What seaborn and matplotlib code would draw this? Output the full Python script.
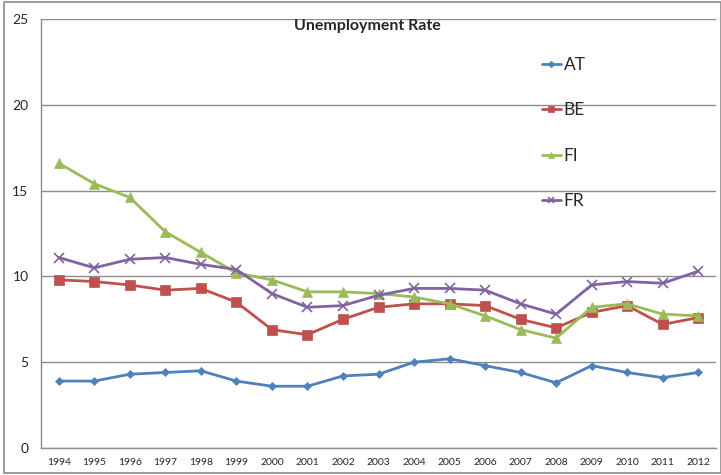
import matplotlib
matplotlib.use("Agg")
import matplotlib.pyplot as plt
import seaborn as sns
import pandas as pd
from matplotlib.patches import Rectangle

years = [str(y) for y in range(1994, 2013)]
AT = [3.9, 3.9, 4.3, 4.4, 4.5, 3.9, 3.6, 3.6, 4.2, 4.3, 5.0, 5.2, 4.8, 4.4, 3.8, 4.8, 4.4, 4.1, 4.4]
BE = [9.8, 9.7, 9.5, 9.2, 9.3, 8.5, 6.9, 6.6, 7.5, 8.2, 8.4, 8.4, 8.3, 7.5, 7.0, 7.9, 8.3, 7.2, 7.6]
FI = [16.6, 15.4, 14.6, 12.6, 11.4, 10.2, 9.8, 9.1, 9.1, 9.0, 8.8, 8.4, 7.7, 6.9, 6.4, 8.2, 8.4, 7.8, 7.7]
FR = [11.1, 10.5, 11.0, 11.1, 10.7, 10.4, 9.0, 8.2, 8.3, 8.9, 9.3, 9.3, 9.2, 8.4, 7.8, 9.5, 9.7, 9.6, 10.3]
series_names = ["AT", "BE", "FI", "FR"]
title = "Unemployment Rate"

sns.set_style("white")
plt.rcParams['font.family'] = ['Lato', 'DejaVu Sans']

df = pd.DataFrame({"Year": years, "AT": AT, "BE": BE, "FI": FI, "FR": FR})
long = df.melt(id_vars="Year", var_name="Country", value_name="Rate")
long["x"] = long["Year"].map({y: i for i, y in enumerate(years)})

colors = {"AT": "#4F81BD", "BE": "#C0504D", "FI": "#9BBB59", "FR": "#8064A2"}
markers = {"AT": "D", "BE": "s", "FI": "^", "FR": "x"}
msizes = {"AT": 4.5, "BE": 6.5, "FI": 6.5, "FR": 6.5}

fig = plt.figure(figsize=(7.21, 4.75), dpi=100)
ax = fig.add_axes([41/721, (475-448)/475, (716-41)/721, (448-19)/475])

for name in series_names:
    sub = long[long["Country"] == name]
    sns.lineplot(data=sub, x="x", y="Rate", ax=ax, color=colors[name],
                 marker=markers[name], markersize=msizes[name],
                 markeredgecolor=colors[name], markeredgewidth=1.2 if name == "FR" else 0.5,
                 linewidth=2.0, label=name, sort=False)

ax.set_xlim(-0.5, len(years) - 0.5)
ax.set_ylim(0, 25)
ax.set_yticks([0, 5, 10, 15, 20, 25])
ax.set_xticks(range(len(years)))
ax.set_xticklabels(years, fontsize=7.5)
ax.set_xticks([i - 0.5 for i in range(len(years) + 1)], minor=True)
ax.tick_params(axis='x', which='major', length=0, pad=7)
ax.tick_params(axis='x', which='minor', length=4, color='#8c8c8c', width=1, direction='out')
ax.tick_params(axis='y', which='major', length=5, color='#8c8c8c', width=1, direction='out',
               labelsize=10, pad=4)
ax.yaxis.grid(True, color='#8c8c8c', linewidth=1)
ax.set_axisbelow(True)
ax.set_xlabel("")
ax.set_ylabel("")
for side in ["top", "right"]:
    ax.spines[side].set_visible(False)
for side in ["left", "bottom"]:
    ax.spines[side].set_color('#8c8c8c')
    ax.spines[side].set_linewidth(1)

ax.text(0.483, 0.983, title, transform=ax.transAxes, ha='center', va='center',
        fontsize=11.5, fontweight='bold')

leg = ax.legend(loc='upper left', bbox_to_anchor=((535-41)/675, (448-50)/429),
                frameon=False, fontsize=12.5, labelspacing=1.70, handlelength=1.1,
                handletextpad=0.15, borderaxespad=0, markerscale=0.75)

fig.patches.append(Rectangle((4/721, 2/475), 717/721, (473-2)/475, transform=fig.transFigure,
                             fill=False, edgecolor='#8c8c8c', linewidth=1.2))

fig.savefig("out.png", dpi=100)
